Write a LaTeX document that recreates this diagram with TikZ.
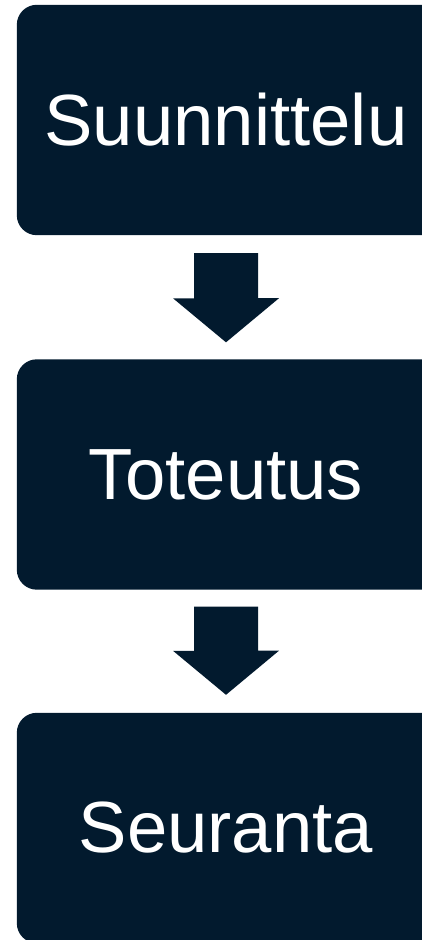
\documentclass[tikz,border=0pt]{standalone}
\usepackage{fontspec}
\setmainfont{Liberation Sans}
\usepackage{tikz}
\usetikzlibrary{positioning, calc, backgrounds}

\definecolor{navy}{RGB}{2,26,46}

\begin{document}
\begin{tikzpicture}[
    x=1pt, y=1pt,
    phase/.style={rectangle, text=white, minimum width=418pt,
                  minimum height=230pt, inner sep=0pt,
                  font=\fontsize{72.5}{82}\selectfont},
    phasebg/.style={fill=navy, rounded corners=20pt},
    blockarrow/.style={fill=navy},
]
  \useasboundingbox (0,0) rectangle (421,940);
  \clip (0,0) rectangle (421,940);

  \node[phase] (plan) at (226,820) {Suunnittelu};
  \node[phase] (impl) at (226,465.5) {Toteutus};
  \node[phase] (follow) at (226,112) {Seuranta};

  % boxes run on past the right edge of the page
  \begin{scope}[on background layer]
    \foreach \n in {plan, impl, follow}
      \fill[phasebg] (\n.north west) rectangle ($(\n.south east)+(60,0)$);
  \end{scope}

  % block arrows between the phases
  \fill[blockarrow] ($(plan.south)+(-32,-18)$) -- ++(64,0) -- ++(0,-45)
      -- ++(21,0) -- ($(impl.north)+(0,17)$) -- ++(-53,44) -- ++(21,0) -- cycle;
  \fill[blockarrow] ($(impl.south)+(-32,-17)$) -- ++(64,0) -- ++(0,-44)
      -- ++(21,0) -- ($(follow.north)+(0,18)$) -- ++(-53,44) -- ++(21,0) -- cycle;
\end{tikzpicture}
\end{document}
